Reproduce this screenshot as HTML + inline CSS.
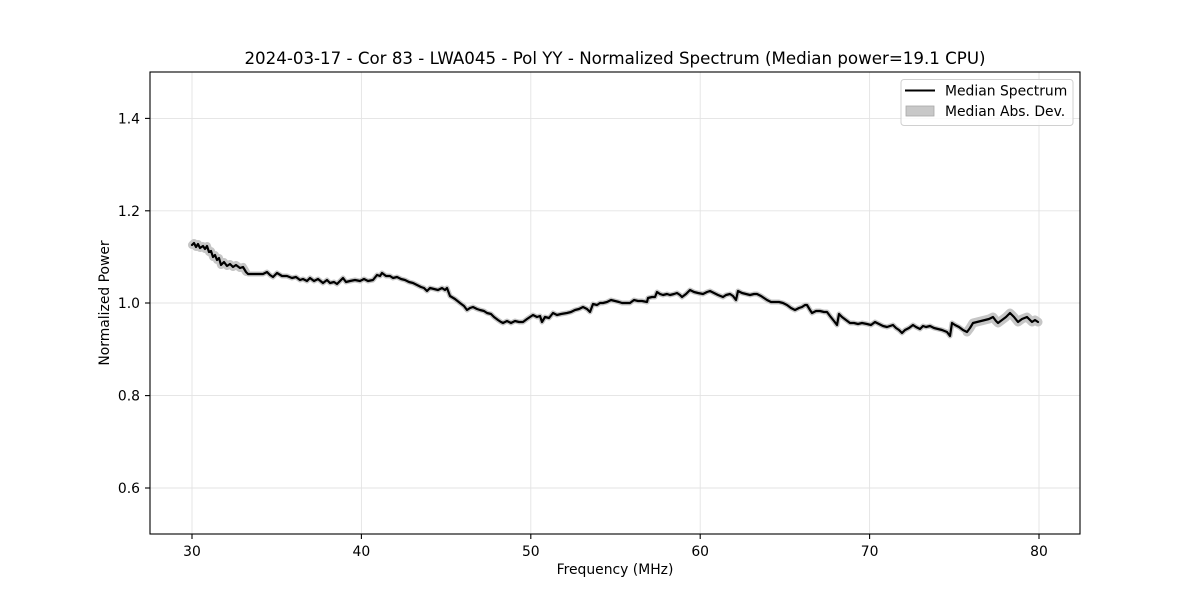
<!DOCTYPE html>
<html>
<head>
<meta charset="utf-8">
<style>
html,body{margin:0;padding:0;background:#fff;}
svg{display:block;}
text{font-family:"DejaVu Sans","Liberation Sans",sans-serif;fill:#000;}
</style>
</head>
<body>
<svg width="1200" height="600" viewBox="0 0 1200 600" xmlns="http://www.w3.org/2000/svg">
<rect x="0" y="0" width="1200" height="600" fill="#fff"/>
<!-- grid -->
<g stroke="#e3e3e3" stroke-width="0.9">
<line x1="192" y1="72" x2="192" y2="534"/>
<line x1="361.4" y1="72" x2="361.4" y2="534"/>
<line x1="530.8" y1="72" x2="530.8" y2="534"/>
<line x1="700.2" y1="72" x2="700.2" y2="534"/>
<line x1="869.6" y1="72" x2="869.6" y2="534"/>
<line x1="1039" y1="72" x2="1039" y2="534"/>
<line x1="150" y1="488" x2="1080" y2="488"/>
<line x1="150" y1="395.6" x2="1080" y2="395.6"/>
<line x1="150" y1="303" x2="1080" y2="303"/>
<line x1="150" y1="210.8" x2="1080" y2="210.8"/>
<line x1="150" y1="118.4" x2="1080" y2="118.4"/>
</g>
<!-- series -->
<g fill="none" stroke-linejoin="round" stroke-linecap="round">
<polyline stroke="#c6c6c6" stroke-width="5" points="192,245 194,243 196,247 198,244 200,248 203,246 205,249 207,246 209,252 211,251 213,257 215,255 217,260 219,258 221,265 224,262 227,266 230,264 233,267 236,265 240,268 243,267 246,272 248,274 255,274 263,274 267,272 270,275 273,277 277,273 282,276 287,276 292,278 296,277 300,280 303,279 307,281 310,278 314,281 318,279 323,283 327,280 330,283 334,282 337,284 340,281 343,278 346,282 350,281 355,280 360,281 364,279 368,281 373,280 377,275 380,276 382,273 386,276 390,276 393,278 397,277 401,279 405,280 409,282 413,283 417,285 421,287 424,288 427,291 430,288 434,289 438,290 442,288 445,290 447,288 450,296 455,299 460,303 464,306 467,310 470,308 473,307 477,309 480,310 484,311 487,313 491,314 494,317 498,320 501,322 503,323 507,321 511,323 515,321 519,322 523,322 527,319 530,317 533,315 537,317 540,316 542,322 545,317 549,318 553,313 557,315 561,314 567,313 571,312 575,310 579,309 583,307 587,309 590,312 593,304 597,305 600,303 603,303 607,302 611,300 615,301 619,302 622,303 626,303 630,303 634,300 638,301 642,301 647,302 648,298 652,297 655,297 657,292 660,294 663,295 667,294 670,295 674,294 677,293 680,295 682,297 686,294 690,290 694,292 698,293 703,294 707,292 710,291 714,293 718,295 723,297 726,295 730,294 733,296 736,300 738,291 742,293 746,294 750,295 754,294 757,294 761,296 764,298 767,300 771,302 775,302 779,302 783,303 787,305 791,308 795,310 799,308 802,307 805,305 807,305 810,310 812,313 816,311 820,311 824,312 827,312 830,316 834,321 837,325 839,314 842,317 846,320 850,323 854,323 858,324 862,323 867,324 871,325 875,322 879,324 883,326 887,327 890,326 893,325 896,328 899,330 902,333 905,330 909,328 913,325 916,327 920,329 923,326 926,327 930,326 934,328 938,329 942,330 947,332 950,336 952,323 955,325 959,327 963,330 967,332 970,328 973,323 977,322 981,321 985,320 989,319 993,317 996,321 998,323 1002,320 1006,317 1010,313 1014,317 1018,322 1022,319 1027,317 1030,320 1032,322 1035,320 1038,322"/>
<polyline stroke="#c6c6c6" stroke-width="8" points="192,245 194,243 196,247 198,244 200,248 203,246 205,249 207,246 209,252 211,251 213,257 215,255 217,260 219,258 221,265 224,262 227,266 230,264 233,267 236,265 240,268 243,267 246,272"/>
<polyline stroke="#c6c6c6" stroke-width="9" points="967,332 970,328 973,323 977,322 981,321 985,320 989,319 993,317 996,321 998,323 1002,320 1006,317 1010,313 1014,317 1018,322 1022,319 1027,317 1030,320 1032,322 1035,320 1038,322"/>
<polyline stroke="#000" stroke-width="2.2" points="192,245 194,243 196,247 198,244 200,248 203,246 205,249 207,246 209,252 211,251 213,257 215,255 217,260 219,258 221,265 224,262 227,266 230,264 233,267 236,265 240,268 243,267 246,272 248,274 255,274 263,274 267,272 270,275 273,277 277,273 282,276 287,276 292,278 296,277 300,280 303,279 307,281 310,278 314,281 318,279 323,283 327,280 330,283 334,282 337,284 340,281 343,278 346,282 350,281 355,280 360,281 364,279 368,281 373,280 377,275 380,276 382,273 386,276 390,276 393,278 397,277 401,279 405,280 409,282 413,283 417,285 421,287 424,288 427,291 430,288 434,289 438,290 442,288 445,290 447,288 450,296 455,299 460,303 464,306 467,310 470,308 473,307 477,309 480,310 484,311 487,313 491,314 494,317 498,320 501,322 503,323 507,321 511,323 515,321 519,322 523,322 527,319 530,317 533,315 537,317 540,316 542,322 545,317 549,318 553,313 557,315 561,314 567,313 571,312 575,310 579,309 583,307 587,309 590,312 593,304 597,305 600,303 603,303 607,302 611,300 615,301 619,302 622,303 626,303 630,303 634,300 638,301 642,301 647,302 648,298 652,297 655,297 657,292 660,294 663,295 667,294 670,295 674,294 677,293 680,295 682,297 686,294 690,290 694,292 698,293 703,294 707,292 710,291 714,293 718,295 723,297 726,295 730,294 733,296 736,300 738,291 742,293 746,294 750,295 754,294 757,294 761,296 764,298 767,300 771,302 775,302 779,302 783,303 787,305 791,308 795,310 799,308 802,307 805,305 807,305 810,310 812,313 816,311 820,311 824,312 827,312 830,316 834,321 837,325 839,314 842,317 846,320 850,323 854,323 858,324 862,323 867,324 871,325 875,322 879,324 883,326 887,327 890,326 893,325 896,328 899,330 902,333 905,330 909,328 913,325 916,327 920,329 923,326 926,327 930,326 934,328 938,329 942,330 947,332 950,336 952,323 955,325 959,327 963,330 967,332 970,328 973,323 977,322 981,321 985,320 989,319 993,317 996,321 998,323 1002,320 1006,317 1010,313 1014,317 1018,322 1022,319 1027,317 1030,320 1032,322 1035,320 1038,322"/>
</g>
<!-- axes frame -->
<rect x="150" y="72" width="930" height="462" fill="none" stroke="#000" stroke-width="1.1"/>
<!-- ticks -->
<g stroke="#000" stroke-width="1.1">
<line x1="192" y1="534" x2="192" y2="539"/>
<line x1="361.4" y1="534" x2="361.4" y2="539"/>
<line x1="530.8" y1="534" x2="530.8" y2="539"/>
<line x1="700.2" y1="534" x2="700.2" y2="539"/>
<line x1="869.6" y1="534" x2="869.6" y2="539"/>
<line x1="1039" y1="534" x2="1039" y2="539"/>
<line x1="145" y1="488" x2="150" y2="488"/>
<line x1="145" y1="395.6" x2="150" y2="395.6"/>
<line x1="145" y1="303" x2="150" y2="303"/>
<line x1="145" y1="210.8" x2="150" y2="210.8"/>
<line x1="145" y1="118.4" x2="150" y2="118.4"/>
</g>
<g font-size="13.9px" text-anchor="middle">
<text x="192" y="556">30</text>
<text x="361.4" y="556">40</text>
<text x="530.8" y="556">50</text>
<text x="700.2" y="556">60</text>
<text x="869.6" y="556">70</text>
<text x="1039" y="556">80</text>
</g>
<g font-size="13.9px" text-anchor="end">
<text x="140" y="493">0.6</text>
<text x="140" y="400.6">0.8</text>
<text x="140" y="308">1.0</text>
<text x="140" y="215.8">1.2</text>
<text x="140" y="123.4">1.4</text>
</g>
<text x="615" y="574" font-size="13.9px" text-anchor="middle">Frequency (MHz)</text>
<text transform="translate(109,303) rotate(-90)" font-size="13.9px" text-anchor="middle">Normalized Power</text>
<text x="615" y="64" font-size="16.67px" text-anchor="middle">2024-03-17 - Cor 83 - LWA045 - Pol YY - Normalized Spectrum (Median power=19.1 CPU)</text>
<!-- legend -->
<rect x="901" y="79.5" width="172" height="46" rx="3" ry="3" fill="#fff" fill-opacity="0.8" stroke="#d0d0d0" stroke-width="1"/>
<line x1="905" y1="90.5" x2="935" y2="90.5" stroke="#000" stroke-width="2"/>
<rect x="906" y="106" width="28" height="10" fill="#c8c8c8" stroke="#a8a8a8" stroke-width="0.8"/>
<text x="945" y="95.5" font-size="13.9px">Median Spectrum</text>
<text x="945" y="116" font-size="13.9px">Median Abs. Dev.</text>
</svg>
</body>
</html>
